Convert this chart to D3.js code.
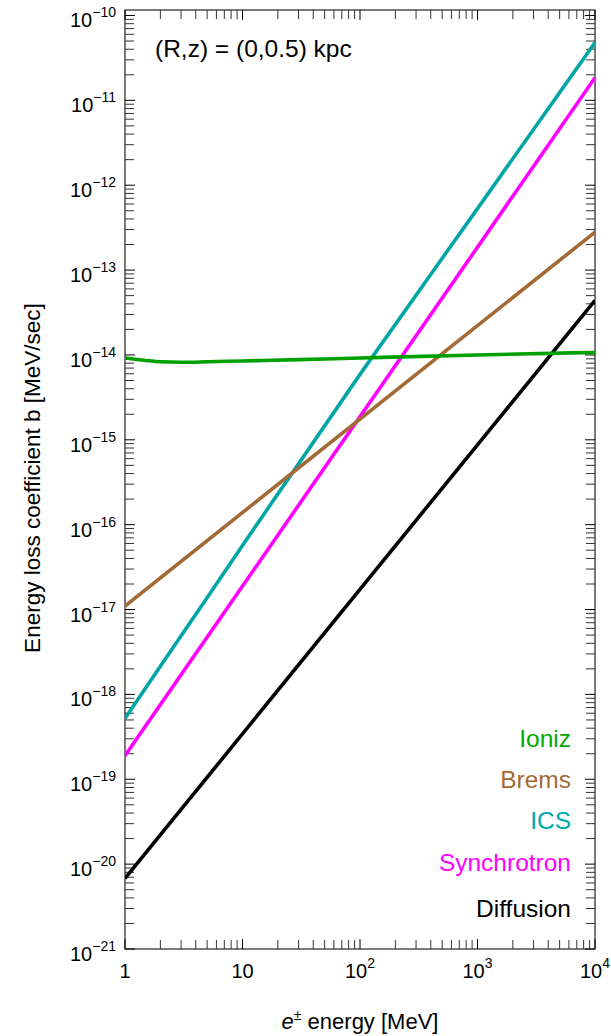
<!DOCTYPE html>
<html><head><meta charset="utf-8">
<script src="https://cdn.jsdelivr.net/npm/d3@7"></script>
<style>
html,body{margin:0;padding:0;background:#fff;}
text{font-family:"Liberation Sans",Arial,sans-serif;}
</style></head>
<body>
<svg id="chart" width="611" height="1036"></svg>
<script>
// ---- data ----
const xTickValues = [1, 10, 100, 1000, 10000];
const xTickExp = [null, null, 2, 3, 4];          // 1, 10, 10^2, 10^3, 10^4
const yTickExps = [-10,-11,-12,-13,-14,-15,-16,-17,-18,-19,-20,-21];

const ionizE = [1, 1.5, 2, 3, 5, 10, 30, 100, 1000, 10000];
const ionizB = [9.2e-15, 8.6e-15, 8.3e-15, 8.2e-15, 8.3e-15, 8.5e-15, 8.8e-15, 9.2e-15, 1.0e-14, 1.07e-14];

const bremsE = [1, 10000];
const bremsB = [1.1e-17, 2.8e-13];

const icsE = [1, 2, 5, 10, 100, 1000, 10000];
const icsB = [5.2e-19, 2.15e-18, 1.38e-17, 5.7e-17, 5.9e-15, 5.3e-13, 4.8e-11];

const synchE = [1, 10000];
const synchB = [1.9e-19, 1.85e-11];

const diffE = [1, 10000];
const diffB = [6.8e-21, 4.4e-14];

const seriesNames = ["Ioniz", "Brems", "ICS", "Synchrotron", "Diffusion"];
const seriesColors = ["#00a000", "#a46a36", "#00a6a6", "#ff00ff", "#000000"];
const legendColors = ["#00aa00", "#a46a36", "#00aaaa", "#ff00ff", "#000000"];

const annotation = "(R,z) = (0,0.5) kpc";
const xTitle = "energy [MeV]";
const yTitle = "Energy loss coefficient b [MeV/sec]";

// ---- layout ----
const L = 125, R = 595, B = 949, T = 10;
const svg = d3.select("#chart");

const x = d3.scaleLog().domain([1, 1e4]).range([L, R]);
const y = d3.scaleLog().domain([1e-21, 1.16e-10]).range([B, T]);

// frame
svg.append("rect").attr("x", L).attr("y", T).attr("width", R - L).attr("height", B - T)
  .attr("fill", "none").attr("stroke", "#222").attr("stroke-width", 1.2);

// ticks
const tickColor = "#333";
const g = svg.append("g");
const xMinor = [];
for (let d = 0; d < 4; d++) for (let m = 2; m <= 9; m++) xMinor.push(m * Math.pow(10, d));
xMinor.forEach(v => {
  g.append("line").attr("x1", x(v)).attr("x2", x(v)).attr("y1", B).attr("y2", B - 9).attr("stroke", tickColor);
  g.append("line").attr("x1", x(v)).attr("x2", x(v)).attr("y1", T).attr("y2", T + 9).attr("stroke", tickColor);
});
xTickValues.forEach(v => {
  g.append("line").attr("x1", x(v)).attr("x2", x(v)).attr("y1", B).attr("y2", B - 10).attr("stroke", "#000");
  g.append("line").attr("x1", x(v)).attr("x2", x(v)).attr("y1", T).attr("y2", T + 10).attr("stroke", "#000");
});
const yMinor = [];
for (let e = -21; e <= -11; e++) for (let m = 2; m <= 9; m++) yMinor.push(m * Math.pow(10, e));
yMinor.forEach(v => {
  g.append("line").attr("y1", y(v)).attr("y2", y(v)).attr("x1", L).attr("x2", L + 9).attr("stroke", tickColor);
  g.append("line").attr("y1", y(v)).attr("y2", y(v)).attr("x1", R).attr("x2", R - 9).attr("stroke", tickColor);
});
yTickExps.forEach(e => {
  const v = Math.pow(10, e);
  g.append("line").attr("y1", y(v)).attr("y2", y(v)).attr("x1", L).attr("x2", L + 10).attr("stroke", "#000");
  g.append("line").attr("y1", y(v)).attr("y2", y(v)).attr("x1", R).attr("x2", R - 10).attr("stroke", "#000");
});

// x tick labels
xTickValues.forEach((v, i) => {
  const t = svg.append("text").attr("x", x(v)).attr("y", 978).attr("text-anchor", "middle")
    .attr("font-size", 20).attr("fill", "#000");
  if (xTickExp[i] === null) {
    t.text(String(v));
  } else {
    t.append("tspan").text("10");
    t.append("tspan").attr("dy", -10).attr("font-size", 14).text(String(xTickExp[i]));
  }
});

// y tick labels
yTickExps.forEach(e => {
  const v = Math.pow(10, e);
  const t = svg.append("text").attr("x", 116).attr("y", y(v) + 12).attr("text-anchor", "end")
    .attr("font-size", 20).attr("fill", "#000");
  t.append("tspan").text("10");
  t.append("tspan").attr("dy", -10).attr("font-size", 14).text("\u2212" + String(-e));
});

// lines
const line = d3.line().x(d => x(d[0])).y(d => y(d[1])).curve(d3.curveMonotoneX);
const seriesData = [
  d3.zip(ionizE, ionizB), d3.zip(bremsE, bremsB), d3.zip(icsE, icsB),
  d3.zip(synchE, synchB), d3.zip(diffE, diffB)
];
svg.append("clipPath").attr("id", "clip").append("rect")
  .attr("x", L).attr("y", T).attr("width", R - L).attr("height", B - T);
const lg = svg.append("g").attr("clip-path", "url(#clip)");
[4, 3, 2, 1, 0].forEach(i => {
  lg.append("path").attr("d", line(seriesData[i])).attr("fill", "none")
    .attr("stroke", seriesColors[i]).attr("stroke-width", 3.6).attr("stroke-linecap", "butt");
});

// legend
const legY = [738, 779, 820, 862, 908];
seriesNames.forEach((n, i) => {
  svg.append("text").attr("x", 571).attr("y", legY[i] + 9).attr("text-anchor", "end")
    .attr("font-size", 24.5).attr("fill", legendColors[i]).text(n);
});

// annotation
svg.append("text").attr("x", 155).attr("y", 57).attr("font-size", 24.5).attr("fill", "#000").text(annotation);

// axis titles
const xt = svg.append("text").attr("x", 360).attr("y", 1029).attr("text-anchor", "middle")
  .attr("font-size", 22).attr("fill", "#000");
xt.append("tspan").attr("font-style", "italic").text("e");
xt.append("tspan").attr("dy", -9).attr("font-size", 14).text("\u00b1");
xt.append("tspan").attr("dy", 9).text(" " + xTitle);

svg.append("text").attr("transform", "translate(40,478) rotate(-90)").attr("text-anchor", "middle")
  .attr("font-size", 22.5).attr("fill", "#000").text(yTitle);
</script>
</body></html>
